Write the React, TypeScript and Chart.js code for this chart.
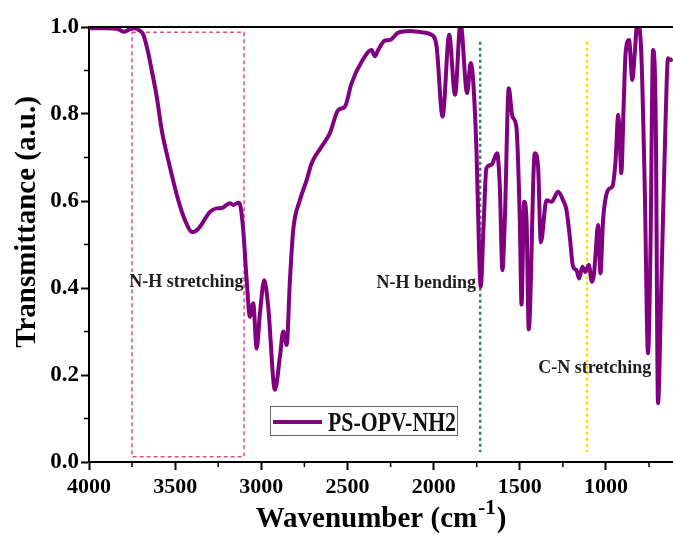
import { useEffect, useRef } from "react";
import { Chart, registerables } from "chart.js";

Chart.register(...registerables);

// ---- data ----
const wavenumbers = [
  4000, 3900, 3830, 3800, 3760, 3733, 3700, 3685, 3656, 3636, 3607, 3578, 3540, 3482, 3443, 3401, 3380, 3356,
  3298, 3260, 3230, 3182, 3163, 3134, 3124, 3105, 3085, 3066, 3047, 3027, 3008, 2983, 2960, 2921, 2892, 2873,
  2853, 2834, 2815, 2776, 2737, 2708, 2650, 2602, 2554, 2515, 2476, 2418, 2360, 2341, 2322, 2283, 2254, 2206,
  2138, 2070, 2012, 1983, 1948, 1910, 1876, 1844, 1806, 1785, 1771, 1751, 1736, 1727, 1709, 1694, 1665, 1632,
  1616, 1601, 1587, 1564, 1543, 1520, 1500, 1490, 1475, 1461, 1448, 1413, 1394, 1378, 1345, 1316, 1278, 1249,
  1229, 1210, 1191, 1171, 1156, 1137, 1119, 1100, 1081, 1069, 1060, 1046, 1032, 1017, 998, 979, 963, 944, 929,
  921, 911, 897, 886, 866, 847, 833, 818, 795, 775, 756, 742, 727, 711, 698, 679, 654, 640, 626, 613,
];
const transmittance = [
  0.997, 0.997, 0.995, 0.989, 0.995, 0.997, 0.99, 0.983, 0.94, 0.9, 0.84, 0.763, 0.694, 0.602, 0.556, 0.529, 0.531, 0.541,
  0.575, 0.583, 0.584, 0.595, 0.591, 0.596, 0.592, 0.533, 0.418, 0.334, 0.365, 0.261, 0.342, 0.418, 0.357, 0.166, 0.242, 0.3,
  0.269, 0.418, 0.533, 0.602, 0.648, 0.687, 0.725, 0.756, 0.809, 0.817, 0.871, 0.92, 0.947, 0.933, 0.947, 0.969, 0.97, 0.987,
  0.991, 0.988, 0.982, 0.955, 0.794, 0.982, 0.844, 1.01, 0.848, 0.917, 0.878, 0.71, 0.48, 0.403, 0.556, 0.675, 0.683, 0.71,
  0.633, 0.441, 0.556, 0.859, 0.794, 0.771, 0.556, 0.362, 0.598, 0.556, 0.305, 0.71, 0.679, 0.505, 0.602, 0.598, 0.621, 0.602,
  0.579, 0.518, 0.449, 0.441, 0.422, 0.449, 0.437, 0.453, 0.414, 0.434, 0.48, 0.545, 0.434, 0.556, 0.614, 0.629, 0.633, 0.694, 0.798,
  0.756, 0.664, 0.825, 0.94, 0.97, 0.878, 0.94, 1.01, 0.94, 0.633, 0.25, 0.48, 0.947, 0.786, 0.135, 0.403, 0.786, 0.928, 0.924, 0.926,
];
const seriesLabel = "PS-OPV-NH2";
const xTickValues = [4000, 3500, 3000, 2500, 2000, 1500, 1000];
const xMinorTicks = [3750, 3250, 2750, 2250, 1750, 1250, 750];
const yTickValues = [0, 0.2, 0.4, 0.6, 0.8, 1.0];
const yMinorTicks = [0.1, 0.3, 0.5, 0.7, 0.9];
const xRange = [611, 4000];
const yRange = [0, 1];

// annotations (data coordinates)
const stretchBoxX = [3750, 3100];
const stretchBoxY = [0.012, 0.988];
const markerLines = [1730, 1110];
const markerSpan = [0.023, 0.966];
const annotationTexts = ["N-H stretching", "N-H bending", "C-N stretching"];
const annotationX = [3435, 2043, 1065];
const annotationY = [0.414, 0.411, 0.216];

const SERIF = "'Liberation Serif', 'Times New Roman', serif";
const PURPLE = "#800080";

const decorPlugin = {
  id: "decor",
  beforeDatasetsDraw(chart: any) {
    const { ctx, chartArea, scales } = chart;
    const xs = scales.x;
    const ys = scales.y;
    ctx.save();
    // dashed box
    ctx.strokeStyle = "#dd4f7f";
    ctx.lineWidth = 1.5;
    ctx.setLineDash([4, 3]);
    const x0 = xs.getPixelForValue(stretchBoxX[0]);
    const x1 = xs.getPixelForValue(stretchBoxX[1]);
    const y0 = ys.getPixelForValue(stretchBoxY[1]);
    const y1 = ys.getPixelForValue(stretchBoxY[0]);
    ctx.strokeRect(x0, y0, x1 - x0, y1 - y0);
    // dotted marker lines
    const colors = ["#2e8468", "#f2e200"];
    ctx.lineWidth = 2.5;
    ctx.setLineDash([3, 3]);
    markerLines.forEach((v, i) => {
      const px = xs.getPixelForValue(v);
      ctx.strokeStyle = colors[i];
      ctx.beginPath();
      ctx.moveTo(px, ys.getPixelForValue(markerSpan[1]));
      ctx.lineTo(px, ys.getPixelForValue(markerSpan[0]));
      ctx.stroke();
    });
    ctx.setLineDash([]);
    // texts
    ctx.fillStyle = "#1e1e1e";
    ctx.font = `bold 18px ${SERIF}`;
    ctx.textAlign = "center";
    ctx.textBaseline = "middle";
    annotationTexts.forEach((t, i) => {
      ctx.fillText(t, xs.getPixelForValue(annotationX[i]), ys.getPixelForValue(annotationY[i]));
    });
    ctx.restore();
  },
  afterDraw(chart: any) {
    const { ctx, chartArea, scales } = chart;
    const xs = scales.x;
    const ys = scales.y;
    ctx.save();
    ctx.strokeStyle = "#000";
    ctx.lineWidth = 2;
    // top border
    ctx.beginPath();
    ctx.moveTo(chartArea.left - 1, chartArea.top);
    ctx.lineTo(chartArea.right, chartArea.top);
    ctx.stroke();
    // minor ticks
    ctx.lineWidth = 1.5;
    xMinorTicks.forEach((v) => {
      if (v < xs.min || v > xs.max) return;
      const px = xs.getPixelForValue(v);
      ctx.beginPath();
      ctx.moveTo(px, chartArea.bottom);
      ctx.lineTo(px, chartArea.bottom + 5);
      ctx.stroke();
    });
    yMinorTicks.forEach((v) => {
      const py = ys.getPixelForValue(v);
      ctx.beginPath();
      ctx.moveTo(chartArea.left, py);
      ctx.lineTo(chartArea.left - 5, py);
      ctx.stroke();
    });
    // x title with superscript
    ctx.fillStyle = "#000";
    ctx.textBaseline = "alphabetic";
    ctx.textAlign = "left";
    const main = "Wavenumber (cm";
    const sup = "-1";
    const close = ")";
    const fMain = `bold 29px ${SERIF}`;
    const fSup = `bold 21px ${SERIF}`;
    ctx.font = fMain;
    const wMain = ctx.measureText(main).width;
    const wClose = ctx.measureText(close).width;
    ctx.font = fSup;
    const wSup = ctx.measureText(sup).width;
    const total = wMain + wSup + wClose + 2;
    let tx = (chartArea.left + chartArea.right) / 2 - total / 2;
    const base = 527;
    ctx.font = fMain;
    ctx.fillText(main, tx, base);
    tx += wMain + 1;
    ctx.font = fSup;
    ctx.fillText(sup, tx, base - 13);
    tx += wSup + 1;
    ctx.font = fMain;
    ctx.fillText(close, tx, base);
    // y title
    ctx.save();
    ctx.translate(35, 222);
    ctx.rotate(-Math.PI / 2);
    ctx.textAlign = "center";
    ctx.font = `bold 29px ${SERIF}`;
    ctx.fillText("Transmittance (a.u.)", 0, 0);
    ctx.restore();
    // legend
    ctx.strokeStyle = "#666";
    ctx.lineWidth = 1;
    ctx.strokeRect(270.5, 406.5, 187, 29);
    ctx.strokeStyle = PURPLE;
    ctx.lineWidth = 4;
    ctx.beginPath();
    ctx.moveTo(273, 422);
    ctx.lineTo(322, 422);
    ctx.stroke();
    ctx.fillStyle = "#111";
    ctx.font = `bold 27px ${SERIF}`;
    const lw = ctx.measureText(seriesLabel).width;
    ctx.save();
    ctx.translate(328, 431);
    ctx.scale(128 / lw, 1);
    ctx.fillText(seriesLabel, 0, 0);
    ctx.restore();
    ctx.restore();
  },
};

export default function App() {
  const ref = useRef<HTMLCanvasElement | null>(null);
  useEffect(() => {
    if (!ref.current) return;
    const chart = new Chart(ref.current, {
      type: "line",
      data: {
        datasets: [
          {
            label: seriesLabel,
            data: wavenumbers.map((w, i) => ({ x: w, y: transmittance[i] })),
            borderColor: PURPLE,
            backgroundColor: PURPLE,
            borderWidth: 4,
            pointRadius: 0,
            cubicInterpolationMode: "monotone",
            fill: false,
          },
        ],
      },
      options: {
        animation: false,
        responsive: false,
        devicePixelRatio: 1,
        layout: { padding: { top: 27, right: 0, left: 0, bottom: 0 } },
        plugins: { legend: { display: false }, tooltip: { enabled: false } },
        scales: {
          x: {
            type: "linear",
            reverse: true,
            min: xRange[0],
            max: xRange[1],
            afterBuildTicks: (s: any) => {
              s.ticks = xTickValues.map((v) => ({ value: v }));
            },
            afterFit: (s: any) => {
              s.height = 75;
            },
            ticks: {
              autoSkip: false,
              maxRotation: 0,
              color: "#000",
              padding: 4,
              font: { family: SERIF, size: 22, weight: "bold" },
              callback: (v: any) => String(v),
            },
            grid: { drawOnChartArea: false, drawTicks: true, tickLength: 8, tickColor: "#000", tickWidth: 2 },
            border: { display: true, color: "#000", width: 2 },
          },
          y: {
            type: "linear",
            min: yRange[0],
            max: yRange[1],
            afterBuildTicks: (s: any) => {
              s.ticks = yTickValues.map((v) => ({ value: v }));
            },
            afterFit: (s: any) => {
              s.width = 89;
            },
            ticks: {
              color: "#000",
              padding: 2,
              font: { family: SERIF, size: 23, weight: "bold" },
              callback: (v: any) => Number(v).toFixed(1),
            },
            grid: { drawOnChartArea: false, drawTicks: true, tickLength: 8, tickColor: "#000", tickWidth: 2 },
            border: { display: true, color: "#000", width: 2 },
          },
        },
      } as any,
      plugins: [decorPlugin],
    });
    return () => chart.destroy();
  }, []);
  return (
    <canvas
      ref={ref}
      width={673}
      height={537}
      style={{ position: "fixed", left: 0, top: 0, width: 673, height: 537, background: "#fff" }}
    />
  );
}
